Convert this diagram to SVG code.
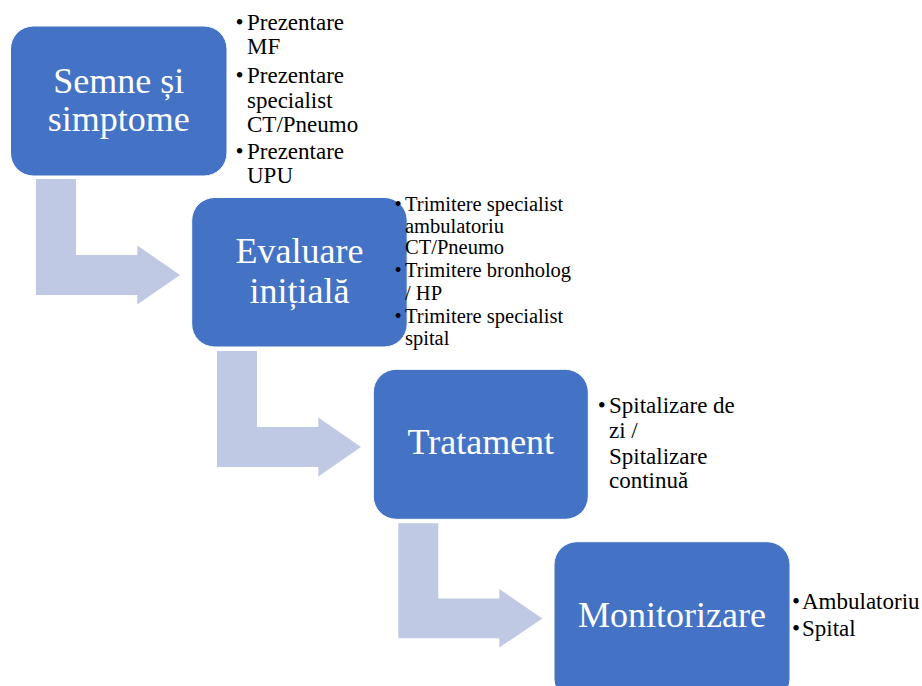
<svg xmlns="http://www.w3.org/2000/svg" width="922" height="686" viewBox="0 0 922 686">
<style>
.box{fill:#4472C4;stroke:#ffffff;stroke-width:1}
.arrow{fill:#BFC9E3}
.t{font-family:'Liberation Serif','DejaVu Serif',serif;font-size:36px;fill:#ffffff;text-anchor:middle}
.l{font-family:'Liberation Serif','DejaVu Serif',serif;font-size:23px;fill:#000000}
.s{font-size:20.5px}
.b{text-anchor:middle}
</style>
<rect width="922" height="686" fill="#ffffff"/>
<g id="connectors">
<polygon class="arrow" points="36,179 76,179 76,255 137.3,255 137.3,245.5 180,275 137.3,304.5 137.3,295 36,295"/>
<polygon class="arrow" points="217,351 257,351 257,427 318.3,427 318.3,417.5 361,447 318.3,476.5 318.3,467 217,467"/>
<polygon class="arrow" points="398.3,523.3 438.3,523.3 438.3,598.5 499.3,598.5 499.3,589 542.3,618.5 499.3,647.5 499.3,638.3 398.3,638.3"/>
</g>
<g id="node1">
<rect class="box" x="10.5" y="26" width="216.5" height="150" rx="23"/>
<text class="t" x="118.7" y="92.7">Semne și</text>
<text class="t" x="118.7" y="130.7">simptome</text>
</g>
<g id="node2">
<rect class="box" x="191.7" y="197.5" width="215.5" height="149.5" rx="23"/>
<text class="t" x="299.5" y="262.7">Evaluare</text>
<text class="t" x="299.5" y="302.7">inițială</text>
</g>
<g id="node3">
<rect class="box" x="373.3" y="369.3" width="215" height="150" rx="23"/>
<text class="t" x="480.8" y="454">Tratament</text>
</g>
<g id="node4">
<rect class="box" x="554" y="541.7" width="236" height="160" rx="23"/>
<text class="t" x="672" y="627">Monitorizare</text>
</g>
<g id="list1" class="l">
<text class="b" x="239.5" y="30">•</text>
<text x="247" y="30">Prezentare</text>
<text x="247" y="54">MF</text>
<text class="b" x="239.5" y="83.3">•</text>
<text x="247" y="83.3">Prezentare</text>
<text x="247" y="108">specialist</text>
<text x="247" y="132">CT/Pneumo</text>
<text class="b" x="239.5" y="159">•</text>
<text x="247" y="159">Prezentare</text>
<text x="247" y="183">UPU</text>
</g>
<g id="list2" class="l s">
<text class="b" x="398" y="210.7">•</text>
<text x="405" y="210.7">Trimitere specialist</text>
<text x="405" y="232.7">ambulatoriu</text>
<text x="405" y="254">CT/Pneumo</text>
<text class="b" x="398" y="277.3">•</text>
<text x="405" y="277.3">Trimitere bronholog</text>
<text x="405" y="300">/ HP</text>
<text class="b" x="398" y="323.3">•</text>
<text x="405" y="323.3">Trimitere specialist</text>
<text x="405" y="345">spital</text>
</g>
<g id="list3" class="l">
<text class="b" x="601.7" y="413">•</text>
<text x="609" y="413">Spitalizare de</text>
<text x="609" y="438">zi /</text>
<text x="609" y="464">Spitalizare</text>
<text x="609" y="488">continuă</text>
</g>
<g id="list4" class="l">
<text class="b" x="796" y="609">•</text>
<text x="802" y="609">Ambulatoriu</text>
<text class="b" x="796" y="636">•</text>
<text x="802" y="636">Spital</text>
</g>
</svg>
